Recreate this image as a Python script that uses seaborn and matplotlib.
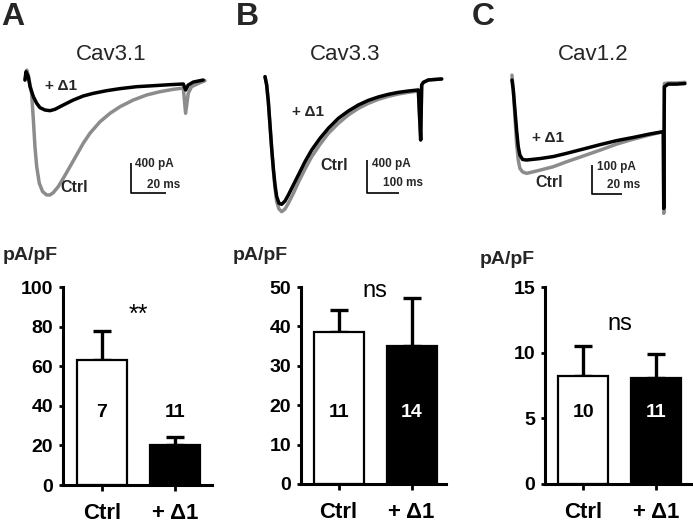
import numpy as np
import pandas as pd
import matplotlib
matplotlib.use("Agg")
import matplotlib.pyplot as plt
import matplotlib.transforms as mtransforms
import seaborn as sns

# ---------------- data ----------------
groups = ["Ctrl", "+ \u03941"]

# bar summaries (pA/pF), SEM, n
a_mean = [63, 20]
a_err = [15, 4]
a_n = [7, 11]
b_mean = [38.5, 35.1]
b_err = [5.7, 12.0]
b_n = [11, 14]
c_mean = [8.2, 8.1]
c_err = [2.3, 1.8]
c_n = [10, 11]

a_ticks = [0, 20, 40, 60, 80, 100]
b_ticks = [0, 10, 20, 30, 40, 50]
c_ticks = [0, 5, 10, 15]

# current traces: time (ms), current (pA)
a_ctrl_t = [0, 1.0, 1.9, 3.8, 4.8, 5.7, 6.7, 8.2, 10.1, 12.4, 14.3, 16.2, 19.0, 21.9, 25.7,
            29.5, 33.3, 37.1, 42.9, 48.6, 54.3, 61.9, 69.5, 77.1, 84.8, 90.5, 91.8, 93.3,
            95.2, 100.0, 102.9]
a_ctrl_i = [0, 133, 67, -178, -533, -889, -1156, -1378, -1489, -1533, -1533, -1502, -1422,
            -1311, -1156, -1000, -844, -711, -556, -444, -356, -267, -200, -156, -124, -107,
            -444, -178, -89, -36, -9]
a_d1_t = [0, 0.6, 1.9, 2.9, 4.8, 6.7, 8.6, 11.4, 14.3, 17.1, 20.0, 23.8, 27.6, 33.3, 39.0,
          46.7, 54.3, 63.8, 73.3, 82.9, 90.5, 91.8, 93.3, 96.2, 101.9]
a_d1_i = [0, 111, 44, -89, -222, -311, -369, -400, -409, -391, -356, -311, -267, -213, -178,
          -142, -115, -89, -76, -62, -53, -133, -67, -27, 0]

b_ctrl_t = [0, 5.2, 10.4, 15.6, 20.8, 26.0, 31.3, 36.5, 43.8, 52.1, 62.5, 72.9, 88.5, 104.2,
            125.0, 145.8, 171.9, 197.9, 229.2, 260.4, 291.7, 322.9, 354.2, 385.4, 416.7,
            447.9, 479.2, 486.5, 489.6, 494.8, 510.4, 552.1]
b_ctrl_i = [16, -85, -287, -570, -852, -1115, -1337, -1499, -1588, -1620, -1588, -1519, -1398,
            -1265, -1103, -954, -804, -671, -549, -448, -368, -307, -259, -222, -194, -174,
            -158, -751, -85, -53, -24, -12]
b_d1_t = [0, 5.2, 10.4, 15.6, 20.8, 26.0, 31.3, 36.5, 43.8, 52.1, 62.5, 72.9, 88.5, 104.2,
          125.0, 145.8, 171.9, 197.9, 229.2, 260.4, 291.7, 322.9, 354.2, 385.4, 416.7, 447.9,
          479.2, 486.5, 489.6, 494.8, 510.4, 552.1]
b_d1_i = [16, -85, -287, -570, -852, -1095, -1297, -1438, -1519, -1531, -1491, -1418, -1297,
          -1176, -1014, -873, -731, -610, -489, -400, -327, -271, -230, -198, -174, -158,
          -145, -751, -85, -53, -24, -12]

c_ctrl_t = [0, 0.9, 2.0, 3.1, 4.2, 5.3, 7.1, 9.8, 18.7, 27.6, 36.4, 47.6, 58.7, 69.8, 80.9,
            92.0, 100.9, 101.2, 101.6, 104.2, 109.8, 115.3]
c_ctrl_i = [17, -35, -127, -219, -276, -305, -317, -322, -311, -299, -282, -262, -242, -221,
            -204, -189, -178, -460, -12, -10, -10, -8]
c_d1_t = [0, 0.9, 2.0, 3.1, 4.2, 5.3, 7.1, 9.8, 18.7, 27.6, 36.4, 47.6, 58.7, 69.8, 80.9,
          92.0, 100.9, 101.2, 101.6, 104.2, 109.8, 115.3]
c_d1_i = [0, -35, -104, -173, -230, -259, -274, -276, -271, -264, -253, -238, -223, -209,
          -198, -186, -178, -443, -23, -14, -14, -12]

# ---------------- style ----------------
sns.set_theme(style="ticks")
plt.rcParams["font.family"] = ["Liberation Sans", "DejaVu Sans"]
plt.rcParams["axes.edgecolor"] = "black"
plt.rcParams["xtick.color"] = "black"
plt.rcParams["ytick.color"] = "black"

GRAY = "#8c8c8c"
W, H = 693, 526
fig = plt.figure(figsize=(W / 100, H / 100), dpi=100)
fig.patch.set_facecolor("white")


def px_axes(x0, y0, x1, y1):
    return fig.add_axes([x0 / W, 1 - y1 / H, (x1 - x0) / W, (y1 - y0) / H])


def trace_panel(box, xlim, ylim, ctrl_t, ctrl_i, d1_t, d1_i, sb, lab_d1, lab_ctrl):
    ax = px_axes(*box)
    sns.lineplot(x=ctrl_t, y=ctrl_i, sort=False, estimator=None, color=GRAY, lw=2.5, ax=ax)
    sns.lineplot(x=d1_t, y=d1_i, sort=False, estimator=None, color="black", lw=2.5, ax=ax)
    for ln in ax.get_lines():
        ln.set_solid_joinstyle("round")
        ln.set_solid_capstyle("round")
    ax.set_xlim(*xlim)
    ax.set_ylim(*ylim)
    ax.axis("off")
    # scale bar
    sx, sy, slen_t, slen_i, tlab_i, tlab_t, ilab_pos, tlab_pos = sb
    ax.plot([sx, sx, sx + slen_t], [sy, sy - slen_i, sy - slen_i], color="black", lw=1.2,
            solid_capstyle="butt")
    ax.text(ilab_pos[0], ilab_pos[1], tlab_i, fontsize=8.5, fontweight="bold", va="center", ha="left")
    ax.text(tlab_pos[0], tlab_pos[1], tlab_t, fontsize=8.5, fontweight="bold", va="center", ha="left")
    ax.text(lab_d1[0], lab_d1[1], groups[1], fontsize=11, fontweight="bold", va="center", ha="left")
    ax.text(lab_ctrl[0], lab_ctrl[1], groups[0], fontsize=11.5, fontweight="bold", va="center", ha="left")
    return ax


def bar_panel(box, xlim, means, errs, ns, ticks, sig, sig_y, sig_size):
    ax = px_axes(*box)
    df = pd.DataFrame({"group": groups, "value": means})
    sns.barplot(data=df, x="group", y="value", hue="group", palette=["white", "black"],
                edgecolor="black", linewidth=1.6, width=0.685, legend=False, ax=ax)
    ax.errorbar(x=[0, 1], y=means, yerr=[[0, 0], errs], fmt="none", ecolor="black",
                elinewidth=2.4, capsize=6.5, capthick=2.4, zorder=0.5)
    ax.set_xlim(*xlim)
    ax.set_ylim(ticks[0], ticks[-1])
    for s in ["top", "right"]:
        ax.spines[s].set_visible(False)
    for s in ["left", "bottom"]:
        ax.spines[s].set_linewidth(2.2)
        ax.spines[s].set_color("black")
    ax.set_yticks(ticks)
    ax.set_yticklabels([str(t) for t in ticks], fontsize=14, fontweight="bold")
    ax.set_xticks([0, 1])
    ax.set_xticklabels(groups, fontsize=16, fontweight="bold")
    ax.tick_params(axis="y", length=3, width=2, pad=4)
    ax.tick_params(axis="x", length=4, width=2, pad=9)
    ax.set_xlabel("")
    ax.set_ylabel("")
    trans = mtransforms.blended_transform_factory(ax.transData, ax.transAxes)
    for i, (n, m) in enumerate(zip(ns, means)):
        frac = 0.365
        inside = m / ticks[-1] > frac
        col = "white" if (inside and i == 1) else "black"
        ax.text(i, frac, str(n), transform=trans, ha="center", va="center", fontsize=14,
                fontweight="bold", color=col, zorder=5)
    ax.text(0.5, sig_y, sig, ha="center", va="center", fontsize=sig_size, color="black")
    ax.patch.set_alpha(0)
    return ax


# ---------- traces ----------
trace_panel((15, 60, 215, 205), (-5.7, 108.6), (-1667, 267),
            a_ctrl_t, a_ctrl_i, a_d1_t, a_d1_i,
            (60.6, -1107, 20, 400, "400 pA", "20 ms", (62.8, -1120), (69.7, -1400)),
            (11.4, -80), (20.0, -1427))
trace_panel((250, 60, 450, 220), (-46.9, 578.1), (-1721, 218),
            b_ctrl_t, b_ctrl_i, b_d1_t, b_d1_i,
            (318.8, -994, 100, 400, "400 pA", "100 ms", (334, -1042), (369, -1273)),
            (84.4, -412), (171.9, -1055))
trace_panel((495, 65, 693, 220), (-11.3, 120.7), (-483, 52),
            c_ctrl_t, c_ctrl_i, c_d1_t, c_d1_i,
            (53.3, -293, 20, 100, "100 pA", "20 ms", (56.7, -300), (63.3, -362)),
            (13.3, -200), (15.3, -355))

# ---------- bars ----------
bar_panel((63, 287, 212, 485), (-0.534, 1.507), a_mean, a_err, a_n, a_ticks, "**", 86, 18)
bar_panel((301, 287, 446, 484), (-0.514, 1.47), b_mean, b_err, b_n, b_ticks, "ns", 49.0, 17)
bar_panel((545, 287, 698, 484), (-0.52, 1.57), c_mean, c_err, c_n, c_ticks, "ns", 12.2, 17)

# ---------- text ----------
def ftext(x, y, s, **kw):
    fig.text(x / W, 1 - y / H, s, **kw)

for x, s in [(1, "A"), (236, "B"), (472, "C")]:
    ftext(x, 17, s, fontsize=23, fontweight="bold", ha="left", va="center")
for x, s in [(111, "Cav3.1"), (345, "Cav3.3"), (593, "Cav1.2")]:
    ftext(x, 54, s, fontsize=16, ha="center", va="center")
for x, y in [(3, 256), (233, 255), (480, 260)]:
    ftext(x, y, "pA/pF", fontsize=14, fontweight="bold", ha="left", va="center")

fig.savefig("out.png", dpi=100, facecolor="white")
